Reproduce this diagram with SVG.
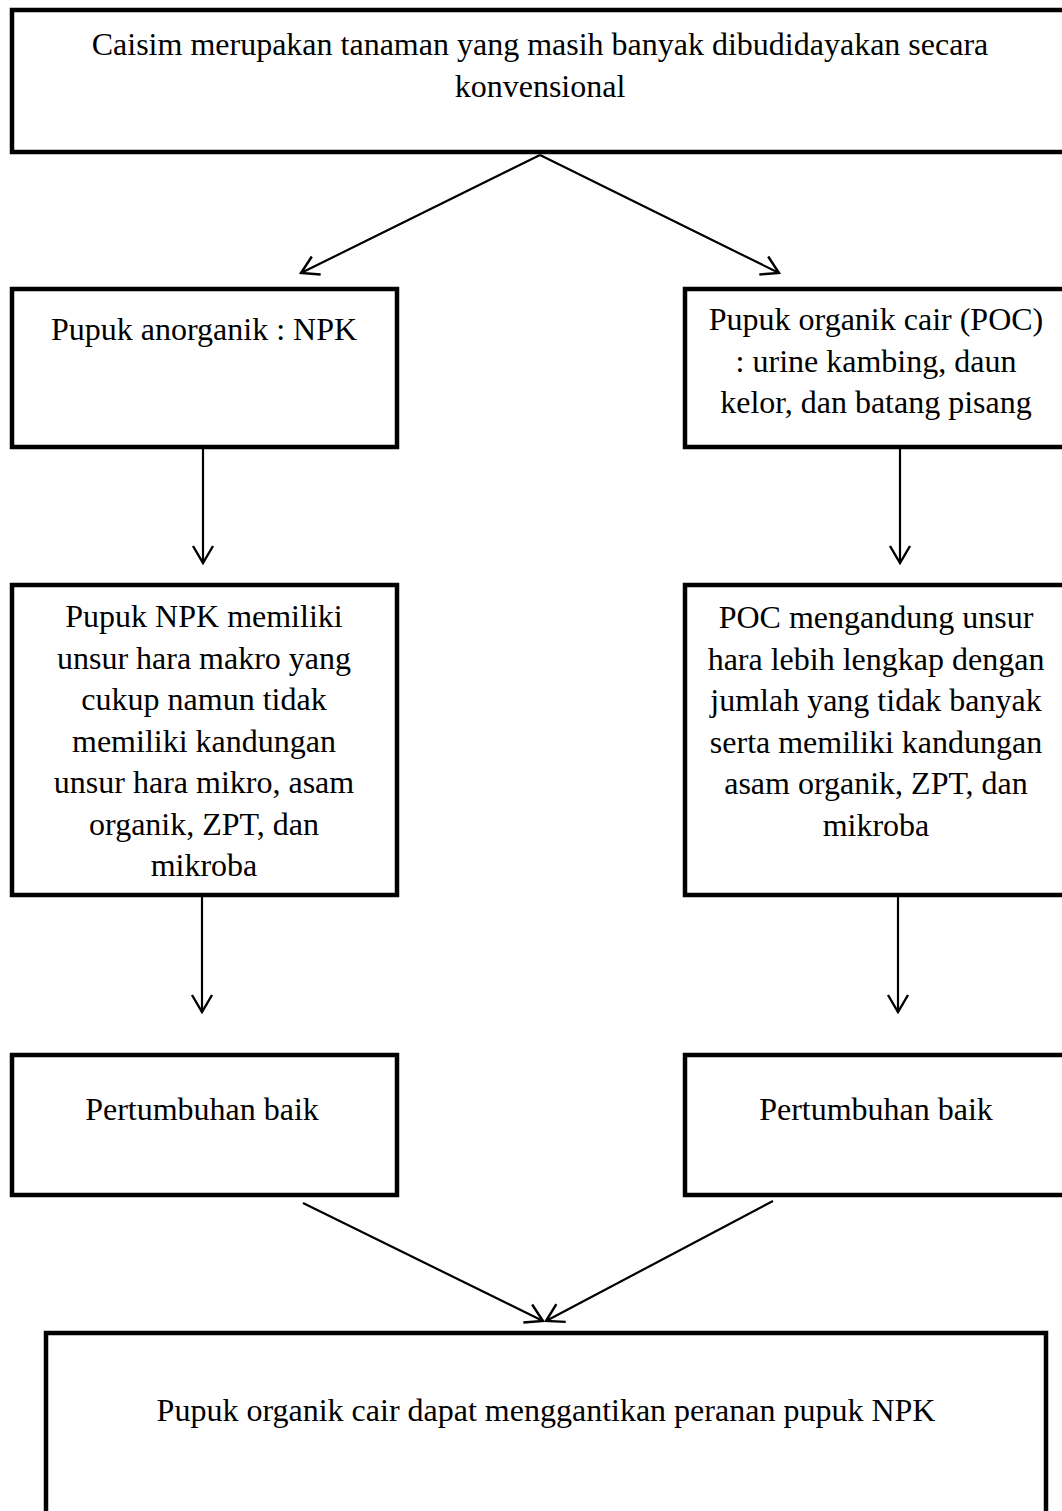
<svg xmlns="http://www.w3.org/2000/svg" width="1062" height="1511" viewBox="0 0 1062 1511">
<style>
  .box { fill: #ffffff; stroke: #000000; stroke-width: 4.5; }
  .t { font-family: "Liberation Serif", "Times New Roman", serif; font-size: 32px; fill: #000000; text-anchor: middle; }
  .c { stroke: #000000; stroke-width: 2.2; fill: none; marker-end: url(#arr); }
</style>
<defs>
  <marker id="arr" markerUnits="userSpaceOnUse" viewBox="-20 -12 22 24" refX="0" refY="0" markerWidth="22" markerHeight="24" orient="auto">
    <path d="M -17 -10 L 0 0 L -17 10" fill="none" stroke="#000000" stroke-width="2.4"/>
  </marker>
</defs>
<rect width="1062" height="1511" fill="#ffffff"/>
<g id="n-top">
  <rect class="box" x="12" y="10" width="1055" height="142"/>
  <text class="t" x="540" y="55">Caisim merupakan tanaman yang masih banyak dibudidayakan secara</text>
  <text class="t" x="540" y="97">konvensional</text>
</g>
<g id="n-anorganik">
  <rect class="box" x="12" y="289" width="385" height="158"/>
  <text class="t" x="204" y="340">Pupuk anorganik : NPK</text>
</g>
<g id="n-poc">
  <rect class="box" x="685" y="289" width="385" height="158"/>
  <text class="t" x="876" y="330">Pupuk organik cair (POC)</text>
  <text class="t" x="876" y="371.5">: urine kambing, daun</text>
  <text class="t" x="876" y="413">kelor, dan batang pisang</text>
</g>
<g id="n-npk-desc">
  <rect class="box" x="12" y="585" width="385" height="310"/>
  <text class="t" x="204" y="627">Pupuk NPK memiliki</text>
  <text class="t" x="204" y="668.5">unsur hara makro yang</text>
  <text class="t" x="204" y="710">cukup namun tidak</text>
  <text class="t" x="204" y="751.5">memiliki kandungan</text>
  <text class="t" x="204" y="793">unsur hara mikro, asam</text>
  <text class="t" x="204" y="834.5">organik, ZPT, dan</text>
  <text class="t" x="204" y="876">mikroba</text>
</g>
<g id="n-poc-desc">
  <rect class="box" x="685" y="585" width="385" height="310"/>
  <text class="t" x="876" y="628">POC mengandung unsur</text>
  <text class="t" x="876" y="669.5">hara lebih lengkap dengan</text>
  <text class="t" x="876" y="711">jumlah yang tidak banyak</text>
  <text class="t" x="876" y="752.5">serta memiliki kandungan</text>
  <text class="t" x="876" y="794">asam organik, ZPT, dan</text>
  <text class="t" x="876" y="835.5">mikroba</text>
</g>
<g id="n-growth-left">
  <rect class="box" x="12" y="1055" width="385" height="140"/>
  <text class="t" x="202" y="1120">Pertumbuhan baik</text>
</g>
<g id="n-growth-right">
  <rect class="box" x="685" y="1055" width="385" height="140"/>
  <text class="t" x="876" y="1120">Pertumbuhan baik</text>
</g>
<g id="n-conclusion">
  <rect class="box" x="46" y="1333" width="1000" height="200"/>
  <text class="t" x="546" y="1421">Pupuk organik cair dapat menggantikan peranan pupuk NPK</text>
</g>
<g id="connectors">
  <line class="c" x1="540" y1="155" x2="301" y2="273"/>
  <line class="c" x1="540" y1="155" x2="779" y2="273"/>
  <line class="c" x1="203" y1="449" x2="203" y2="563"/>
  <line class="c" x1="900" y1="449" x2="900" y2="563"/>
  <line class="c" x1="202" y1="897" x2="202" y2="1012"/>
  <line class="c" x1="898" y1="897" x2="898" y2="1012"/>
  <line class="c" x1="303" y1="1203" x2="543" y2="1321"/>
  <line class="c" x1="773" y1="1201" x2="546" y2="1321"/>
</g>
</svg>
